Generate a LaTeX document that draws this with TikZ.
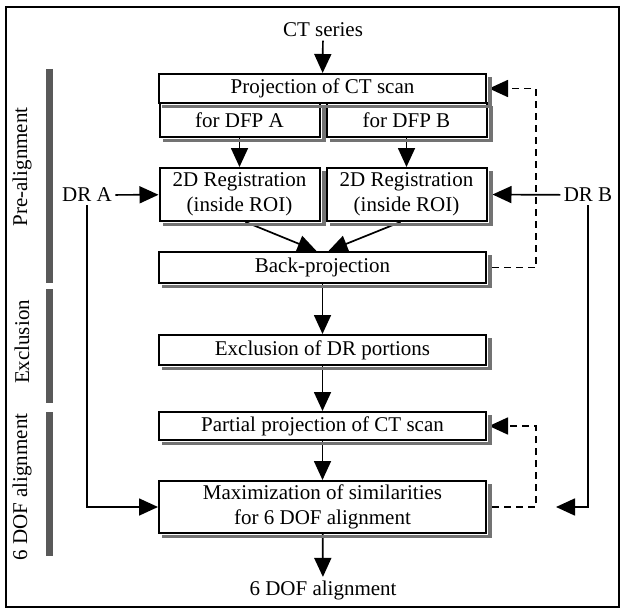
\documentclass[tikz,border=0pt]{standalone}
\usepackage{fontspec}
\setmainfont{Liberation Serif}
\usetikzlibrary{arrows.meta,calc,positioning}

\begin{document}
\begin{tikzpicture}[x=1pt, y=-1pt, >={Triangle[length=19pt,width=17pt]},
  font=\fontsize{21}{25}\selectfont,
  stepbox/.style={draw, line width=2pt, fill=white, inner sep=0pt, align=center},
  widebox/.style={stepbox, minimum width=327pt},
  halfbox/.style={stepbox, minimum width=160pt},
  shadowfill/.style={fill=black!55},
  flow/.style={->, line width=1.7pt},
  loopback/.style={->, line width=1.7pt, dash pattern=on 7pt off 5pt},
  phasebar/.style={line width=7pt, black!65},
  phaselabel/.style={rotate=90, anchor=center}]

\useasboundingbox (0,0) rectangle (621,610);
\draw[line width=1.5pt] (6,7) rectangle (619,607);

% ============ PHASES (left side) ============
\node[phaselabel] (prelabel) at (22,167) {Pre-alignment};
\node[phaselabel] (excllabel) at (22,342) {Exclusion};
\node[phaselabel] (doflabel) at (22,487) {6 DOF alignment};
\draw[phasebar] (49,69) -- (49,283);
\draw[phasebar] (49,289) -- (49,403);
\draw[phasebar] (49,412) -- (49,556);

% ============ PRE-ALIGNMENT ============
\node (ctseries) at (323,30) {CT series};

\node[widebox, minimum height=29pt] (proj) at (322.5,88.5) {Projection of CT scan};
\node[halfbox, minimum height=34pt] (dfpA) at (239.5,120) {for DFP A};
\node[halfbox, minimum height=34pt] (dfpB) at (406.5,120) {for DFP B};

\node[halfbox, minimum height=53pt] (regA) at (239.5,194.5) {2D Registration\\(inside ROI)};
\node[halfbox, minimum height=53pt] (regB) at (406.5,194.5) {2D Registration\\(inside ROI)};

\node (drA) at (87,195) {DR A};
\node (drB) at (588,195) {DR B};

\node[widebox, minimum height=31pt] (back) at (322.5,267.5) {Back-projection};

\draw[flow] (ctseries) -- (proj);
\draw[flow] (dfpA) -- (regA);
\draw[flow] (dfpB) -- (regB);
\draw[flow] (drA) -- (regA);
\draw[flow] (drB) -- ([xshift=5pt]regB.east);
\draw[flow] ([xshift=6pt]regA.south) -- ([xshift=-6pt]back.north);
\draw[flow] ([xshift=-6pt]regB.south) -- ([xshift=6pt]back.north);

% dashed loop back to projection
\draw[loopback] ([xshift=5pt]back.east) -- ++(44,0) |- ([xshift=2pt]proj.east);

% ============ EXCLUSION ============
\node[widebox, minimum height=30pt] (excl) at (322.5,350) {Exclusion of DR portions};
\draw[flow] (back) -- (excl);

% ============ 6 DOF ALIGNMENT ============
\node[widebox, minimum height=28pt] (partial) at (322.5,426) {Partial projection of CT scan};
\node[widebox, minimum height=52pt] (maxsim) at (322.5,507) {Maximization of similarities\\for 6 DOF alignment};
\node (result) at (323,590) {6 DOF alignment};

\draw[flow] (excl) -- (partial);
\draw[flow] (partial) -- (maxsim);
\draw[flow] (maxsim) -- (result);
\draw[loopback] ([xshift=5pt]maxsim.east) -- ++(44,0) |- ([xshift=2pt]partial.east);

% DR inputs to the similarity step
\coordinate (drBend) at (556,507);
\draw[flow] (drA.south) |- (maxsim.west);
\draw[flow] (drB.south) |- (drBend);

% box shadows (right and bottom strips)
\foreach \boxname in {proj,dfpA,dfpB,regA,regB,back,excl,partial,maxsim}{
  \fill[shadowfill] ($(\boxname.north east)+(1,4)$) rectangle ($(\boxname.south east)+(5,4)$);
  \fill[shadowfill] ($(\boxname.south west)+(4,1)$) rectangle ($(\boxname.south east)+(5,4)$);
}

\end{tikzpicture}
\end{document}
